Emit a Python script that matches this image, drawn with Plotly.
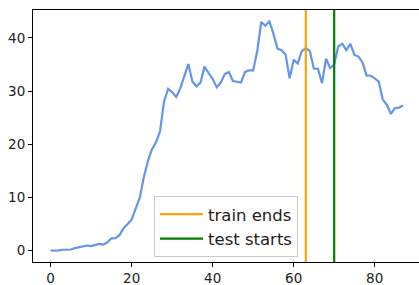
import plotly.graph_objects as go

# data
x_idx = list(range(88))
values = [0.0, 0.0, 0.05, 0.15, 0.2, 0.2, 0.45, 0.6, 0.75, 0.95,
          0.85, 1.0, 1.25, 1.1, 1.55, 2.3, 2.35, 2.9, 4.2, 5.0,
          5.8, 7.9, 9.9, 13.8, 16.8, 19.0, 20.3, 22.4, 28.0, 30.4,
          29.8, 28.9, 30.5, 32.8, 35.1, 31.8, 30.9, 31.6, 34.6, 33.4,
          32.3, 30.7, 31.6, 33.2, 33.6, 31.9, 31.7, 31.6, 33.6, 33.9,
          33.9, 37.5, 43.0, 42.3, 43.1, 40.8, 38.0, 37.7, 36.9, 32.4,
          35.9, 35.2, 37.5, 38.1, 37.5, 34.2, 34.2, 31.5, 36.1, 34.3,
          35.0, 38.4, 38.9, 37.7, 38.9, 36.8, 36.5, 35.4, 32.9, 32.9,
          32.4, 31.8, 28.4, 27.4, 25.7, 26.8, 26.9, 27.3]
train_end = 63
test_start = 70
x_ticks = [0, 20, 40, 60, 80]
y_ticks = [0, 10, 20, 30, 40]

ymin = min(values) - 0.05 * (max(values) - min(values))
ymax = max(values) + 0.05 * (max(values) - min(values))

fig = go.Figure()
fig.add_trace(go.Scatter(x=x_idx, y=values, mode="lines",
                         line=dict(color="#6495ED", width=2.2),
                         showlegend=False, hoverinfo="skip"))
fig.add_trace(go.Scatter(x=[train_end, train_end], y=[ymin - 5, ymax + 5], mode="lines",
                         line=dict(color="orange", width=2.2), name="train ends"))
fig.add_trace(go.Scatter(x=[test_start, test_start], y=[ymin - 5, ymax + 5], mode="lines",
                         line=dict(color="green", width=2.2), name="test starts"))

fig.update_layout(
    width=419, height=285,
    margin=dict(l=33, r=0, t=10, b=23, autoexpand=False),
    plot_bgcolor="white", paper_bgcolor="white",
    font=dict(family="DejaVu Sans", size=13.5, color="#222"),
    xaxis=dict(range=[-4.35, 90.94], tickvals=x_ticks, showgrid=False, zeroline=False,
               showline=True, linecolor="black", linewidth=1, mirror=True,
               ticks="outside", ticklen=4, tickcolor="black", automargin=False),
    yaxis=dict(range=[ymin, ymax], tickvals=y_ticks, showgrid=False, zeroline=False,
               showline=True, linecolor="black", linewidth=1,
               ticks="outside", ticklen=4, tickcolor="black", automargin=False),
    legend=dict(x=0.3135, y=0.262, xanchor="left", yanchor="top",
                bgcolor="rgba(255,255,255,0.8)", bordercolor="#cccccc", borderwidth=1,
                font=dict(size=16.5, family="DejaVu Sans", color="#222"),
                itemwidth=43, tracegroupgap=0),
)

fig.write_html(
    "out.html",
    config={"responsive": False, "displayModeBar": False},
    post_script="document.body.style.margin='0';document.body.style.overflow='hidden';"
                "Plotly.relayout('{plot_id}', {width: 419, height: 285});",
)
